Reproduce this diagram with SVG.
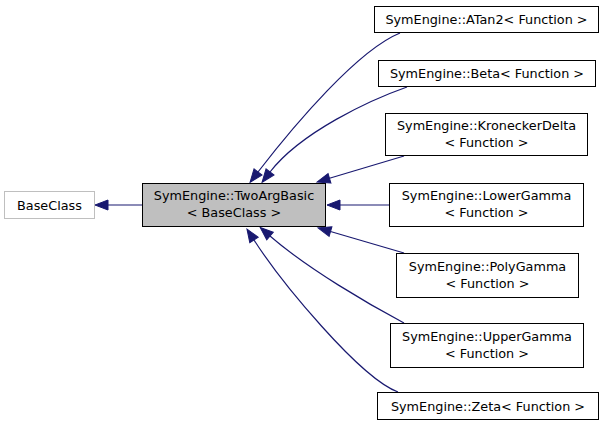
<svg xmlns="http://www.w3.org/2000/svg" width="605" height="428" viewBox="0 0 605 428">
<style>
text{font-family:"DejaVu Sans","Liberation Sans",sans-serif;font-size:12.8px;fill:#000;text-anchor:middle}
.box{fill:#fff;stroke:#000;stroke-width:1}
.edge{fill:none;stroke:#191970;stroke-width:1.2}
</style>
<defs>
<marker id="arr" markerUnits="userSpaceOnUse" markerWidth="16" markerHeight="12" refX="0" refY="0" viewBox="0 -6 14 12" orient="auto" overflow="visible">
<path d="M0,-5 L13,0 L0,5 z" fill="#191970" stroke="#191970" stroke-width="1"/>
</marker>
</defs>
<rect width="605" height="428" fill="#fff"/>
<g id="edges">
<path class="edge" d="M142,205 L108,205" marker-end="url(#arr)"/>
<path class="edge" d="M400,33 C358,50 295,124 258,172" marker-end="url(#arr)"/>
<path class="edge" d="M407,87 C370,100 301,132 270,172" marker-end="url(#arr)"/>
<path class="edge" d="M404,156 L329.5,178.3" marker-end="url(#arr)"/>
<path class="edge" d="M389,205 L340,205" marker-end="url(#arr)"/>
<path class="edge" d="M404,253 L330.5,231.5" marker-end="url(#arr)"/>
<path class="edge" d="M404,323 C370,305 308,269 270,236" marker-end="url(#arr)"/>
<path class="edge" d="M398,392 C360,378 281,282 254,240" marker-end="url(#arr)"/>
</g>
<g id="BaseClass">
<rect x="4.5" y="191.5" width="90" height="27" fill="#fff" stroke="#bfbfbf"/>
<text x="49.5" y="209.5">BaseClass</text>
</g>
<g id="TwoArgBasic">
<rect x="142.5" y="183.5" width="183" height="43" fill="#bfbfbf" stroke="#000"/>
<text x="234" y="200">SymEngine::TwoArgBasic</text>
<text x="234" y="217">&lt; BaseClass &gt;</text>
</g>
<g id="ATan2">
<rect class="box" x="374.5" y="6.5" width="224" height="26"/>
<text x="486.5" y="24">SymEngine::ATan2&lt; Function &gt;</text>
</g>
<g id="Beta">
<rect class="box" x="378.5" y="60.5" width="217" height="26"/>
<text x="487" y="78">SymEngine::Beta&lt; Function &gt;</text>
</g>
<g id="KroneckerDelta">
<rect class="box" x="385.5" y="113.5" width="202" height="42"/>
<text x="486.5" y="130">SymEngine::KroneckerDelta</text>
<text x="486.5" y="147">&lt; Function &gt;</text>
</g>
<g id="LowerGamma">
<rect class="box" x="389.5" y="183.5" width="194" height="43"/>
<text x="486.5" y="200">SymEngine::LowerGamma</text>
<text x="486.5" y="217">&lt; Function &gt;</text>
</g>
<g id="PolyGamma">
<rect class="box" x="396.5" y="253.5" width="182" height="44"/>
<text x="487.5" y="271">SymEngine::PolyGamma</text>
<text x="487.5" y="288">&lt; Function &gt;</text>
</g>
<g id="UpperGamma">
<rect class="box" x="390.5" y="323.5" width="193" height="44"/>
<text x="487" y="341">SymEngine::UpperGamma</text>
<text x="487" y="358">&lt; Function &gt;</text>
</g>
<g id="Zeta">
<rect class="box" x="377.5" y="392.5" width="221" height="27"/>
<text x="488" y="410.5">SymEngine::Zeta&lt; Function &gt;</text>
</g>
</svg>
